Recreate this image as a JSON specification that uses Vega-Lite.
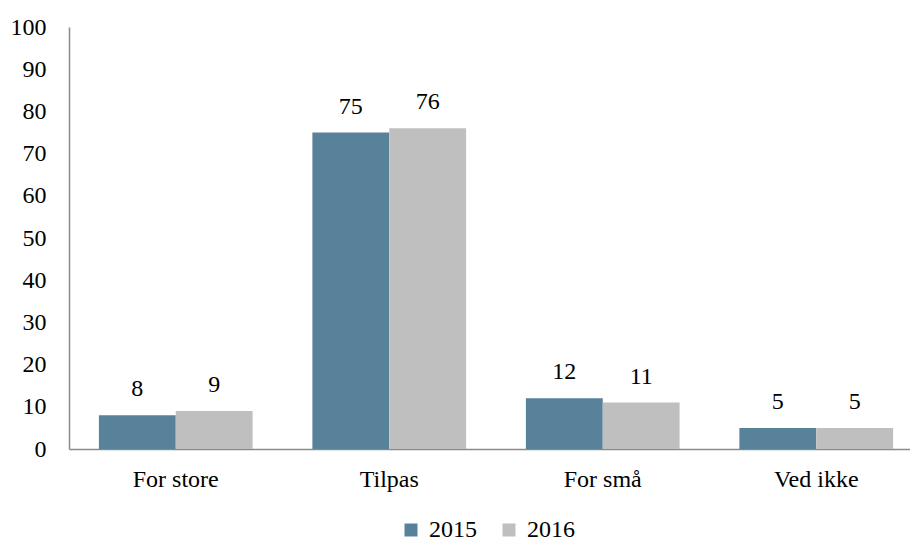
{
  "$schema": "https://vega.github.io/schema/vega-lite/v6.json",
  "autosize": {"type": "none"},
  "width": 854,
  "height": 422,
  "padding": {"left": 69, "top": 27, "right": 0, "bottom": 94},
  "background": "white",
  "config": {
    "view": {"stroke": null},
    "font": "'Liberation Serif', 'DejaVu Serif', serif",
    "axis": {"grid": false, "ticks": false, "domainColor": "#8a8a8a", "domainWidth": 1.5, "labelColor": "#000000", "labelFont": "'Liberation Serif', 'DejaVu Serif', serif", "labelFontSize": 24, "title": null}
  },
  "data": {
    "values": [
      {"kategori": "For store", "aar": "2015", "verdi": 8},
      {"kategori": "For store", "aar": "2016", "verdi": 9},
      {"kategori": "Tilpas", "aar": "2015", "verdi": 75},
      {"kategori": "Tilpas", "aar": "2016", "verdi": 76},
      {"kategori": "For små", "aar": "2015", "verdi": 12},
      {"kategori": "For små", "aar": "2016", "verdi": 11},
      {"kategori": "Ved ikke", "aar": "2015", "verdi": 5},
      {"kategori": "Ved ikke", "aar": "2016", "verdi": 5}
    ]
  },
  "encoding": {
    "x": {
      "field": "kategori", "type": "nominal",
      "sort": ["For store", "Tilpas", "For små", "Ved ikke"],
      "scale": {"paddingInner": 0.28, "paddingOuter": 0.14},
      "axis": {"labelAngle": 0, "labelPadding": 18}
    },
    "xOffset": {"field": "aar", "type": "nominal", "scale": {"paddingInner": 0, "paddingOuter": 0}},
    "y": {
      "field": "verdi", "type": "quantitative",
      "scale": {"domain": [0, 100], "nice": false},
      "axis": {"values": [0, 10, 20, 30, 40, 50, 60, 70, 80, 90, 100], "labelPadding": 23}
    }
  },
  "layer": [
    {
      "mark": {"type": "bar"},
      "encoding": {
        "color": {
          "field": "aar", "type": "nominal",
          "scale": {"domain": ["2015", "2016"], "range": ["#58819A", "#BFBFBF"]},
          "legend": {
            "title": null, "orient": "none", "direction": "horizontal",
            "legendX": 330, "legendY": 491,
            "symbolType": "square", "symbolSize": 169, "symbolStrokeWidth": 0,
            "labelFontSize": 24, "labelFont": "'Liberation Serif', 'DejaVu Serif', serif", "labelColor": "#000000",
            "labelOffset": 6, "columnPadding": 20
          }
        }
      }
    },
    {
      "mark": {"type": "text", "baseline": "alphabetic", "dy": -19, "fontSize": 24, "font": "'Liberation Serif', 'DejaVu Serif', serif", "color": "#000000"},
      "encoding": {
        "text": {"field": "verdi", "type": "quantitative"}
      }
    }
  ]
}
